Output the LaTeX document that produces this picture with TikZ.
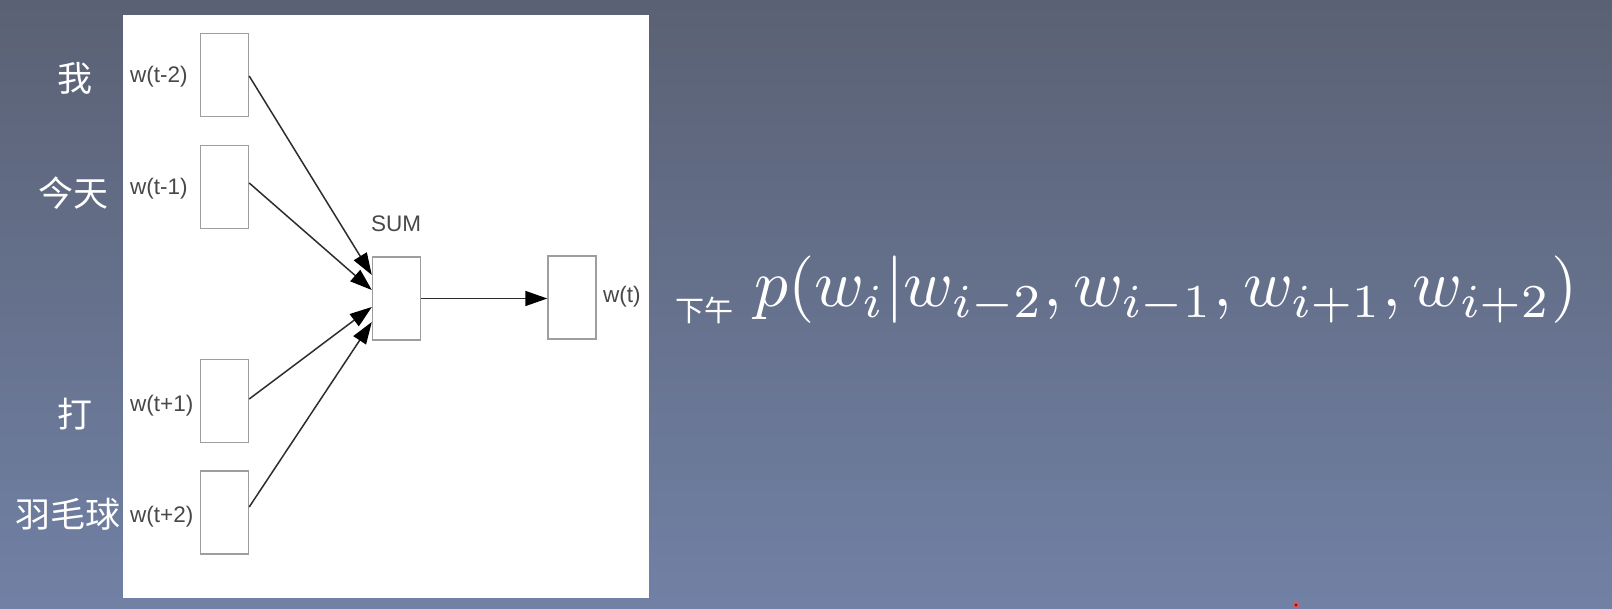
\documentclass[tikz,border=0pt]{standalone}
\usepackage{graphicx}
\usepackage{fontspec}
\setsansfont{Liberation Sans}
\newfontfamily\cjk{Noto Sans CJK SC}
\usetikzlibrary{arrows.meta,calc}
\definecolor{bgtop}{RGB}{90,97,116}
\definecolor{bgmid}{RGB}{102,114,142}
\definecolor{bgbot}{RGB}{113,129,165}
\definecolor{boxgray}{RGB}{158,158,158}
\definecolor{labelgray}{RGB}{72,72,72}
\definecolor{linegray}{RGB}{45,45,45}
\begin{document}
\begin{tikzpicture}[x=1pt,y=-1pt,
  vbox/.style={draw=boxgray, line width=1.4pt, fill=white, minimum width=48pt, minimum height=83pt, inner sep=0pt},
  lbl/.style={font=\fontsize{22.5}{22.5}\selectfont\sffamily, text=labelgray, inner sep=0pt},
  zh/.style={font=\fontsize{35}{35}\selectfont\cjk, text=white, inner sep=0pt},
  conn/.style={draw=linegray, line width=1.5pt, -{Triangle[length=22pt,width=15pt,color=black]}}]
\useasboundingbox (0,0) rectangle (1612,609);
\shade[top color=bgtop, middle color=bgmid, bottom color=bgbot] (0,0) rectangle (1612,609);
\fill[white] (123,15) rectangle (649,598);
% boxes
\node[vbox] (b1) at (224.5,75) {};
\node[vbox] (b2) at (224.5,187) {};
\node[vbox] (b3) at (224.5,401) {};
\node[vbox] (b4) at (224.5,512.5) {};
\node[vbox] (sum) at (396.5,298.5) {};
\node[vbox] (out) at (572,297.5) {};
% labels
\node[lbl, anchor=west] (l1) at (130,77) {w(t-2)};
\node[lbl, anchor=west] (l2) at (130,189) {w(t-1)};
\node[lbl, anchor=west] (l3) at (130,406) {w(t+1)};
\node[lbl, anchor=west] (l4) at (130,517) {w(t+2)};
\node[lbl] (lsum) at (396,224) {SUM};
\node[lbl, anchor=west] (lout) at (603,297) {w(t)};
% chinese words
\node[zh] (z1) at (74.5,78) {我};
\node[zh] (z2) at (73,193) {今天};
\node[zh] (z3) at (75,414) {打};
\node[zh] (z4) at (68,514) {羽毛球};
% connectors
\draw[conn] ($(b1.east)+(0,1)$) -- ($(sum.west)+(0,-23.5)$);
\draw[conn] ($(b2.east)+(0,-4)$) -- ($(sum.west)+(0,-8.5)$);
\draw[conn] ($(b3.east)+(0,-2)$) -- ($(sum.west)+(0,8.5)$);
\draw[conn] ($(b4.east)+(0,-5.5)$) -- ($(sum.west)+(0,23.5)$);
\draw[conn] (sum.east) -- (sum.east -| out.west);
% formula
\node[font=\fontsize{29}{29}\selectfont\cjk, text=white, inner sep=0pt] (pm) at (704,310) {下午};
\node[anchor=base west, inner sep=0pt, text=white] (f) at (754,307) {\resizebox{823pt}{!}{$p(w_i|w_{i-2},w_{i-1},w_{i+1},w_{i+2})$}};
% pointer dot
\fill[red!70!white, opacity=0.6] (1296,605) circle (3.5);
\fill[red!70!black] (1296,605) circle (1.6);
\end{tikzpicture}
\end{document}
